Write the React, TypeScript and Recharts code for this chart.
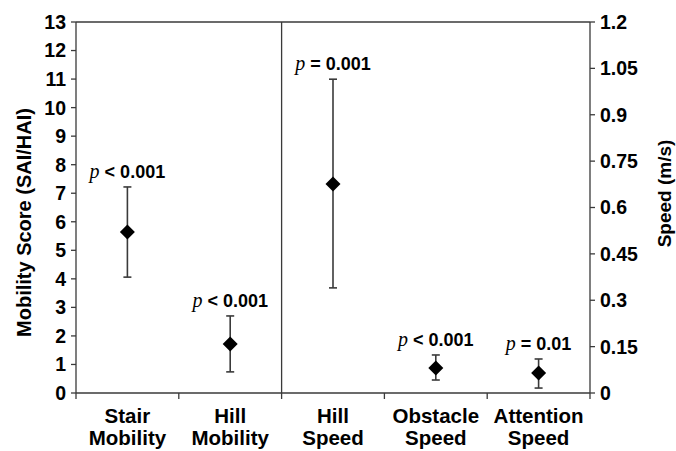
import React from 'react';
import { ComposedChart, Scatter, XAxis, YAxis, ErrorBar, ReferenceLine, Label } from 'recharts';

const categoryLines: string[][] = [
  ['Stair', 'Mobility'],
  ['Hill', 'Mobility'],
  ['Hill', 'Speed'],
  ['Obstacle', 'Speed'],
  ['Attention', 'Speed'],
];
const mobilityMean = [5.64, 1.72];
const mobilityLow = [4.06, 0.74];
const mobilityHigh = [7.22, 2.7];
const speedMean = [0.676, 0.081, 0.065];
const speedLow = [0.34, 0.042, 0.016];
const speedHigh = [1.015, 0.123, 0.11];
const pRelation = ['<', '<', '=', '<', '='];
const pValue = ['0.001', '0.001', '0.001', '0.001', '0.01'];
const leftTicks = [0, 1, 2, 3, 4, 5, 6, 7, 8, 9, 10, 11, 12, 13];
const rightTicks = [0, 0.15, 0.3, 0.45, 0.6, 0.75, 0.9, 1.05, 1.2];
const xTicks = [0, 0.5, 1, 1.5, 2, 2.5, 3, 3.5, 4, 4.5, 5];

const mobilityRows = mobilityMean.map((m, i) => ({
  x: i + 0.5,
  mean: m,
  err: [m - mobilityLow[i], mobilityHigh[i] - m],
  high: mobilityHigh[i],
  rel: pRelation[i],
  pv: pValue[i],
}));
const speedRows = speedMean.map((m, j) => ({
  x: j + 2.5,
  mean: m,
  err: [m - speedLow[j], speedHigh[j] - m],
  high: speedHigh[j],
  rel: pRelation[j + 2],
  pv: pValue[j + 2],
}));

const AX = '#3a3a3a';
const FONT = '"Liberation Sans", Arial, sans-serif';

const Diamond = (props: any) => {
  const { cx, cy } = props;
  const r = 7.5;
  return (
    <polygon
      points={`${cx},${cy - r} ${cx + r},${cy} ${cx},${cy + r} ${cx - r},${cy}`}
      fill="#000"
    />
  );
};

const PLabel = (props: any) => {
  const { cx, cy, payload } = props;
  return (
    <text
      x={cx}
      y={cy - 9}
      textAnchor="middle"
      fontSize={18}
      fontWeight="bold"
      fontFamily={FONT}
      fill="#000"
      style={{ whiteSpace: 'pre' }}
    >
      <tspan fontFamily='"Liberation Serif", "Times New Roman", serif' fontStyle="italic" fontWeight="normal" fontSize={20}>p</tspan>
      <tspan>{` ${payload.rel} ${payload.pv}`}</tspan>
    </text>
  );
};

const XTick = (props: any) => {
  const { x, y, payload } = props;
  const v = payload.value;
  if (Number.isInteger(v)) {
    return <line x1={x} y1={y} x2={x} y2={y + 6} stroke={AX} strokeWidth={1.3} />;
  }
  const lines = categoryLines[Math.floor(v)];
  return (
    <text x={x} y={y} textAnchor="middle" fontSize={20.5} fontWeight="bold" fontFamily={FONT} fill="#000">
      <tspan x={x} dy={30}>{lines[0]}</tspan>
      <tspan x={x} dy={21.5}>{lines[1]}</tspan>
    </text>
  );
};

const LeftTitle = (props: any) => {
  const vb = props.viewBox;
  const x = vb.x + 24;
  const y = vb.y + vb.height / 2 + 15;
  return (
    <text x={x} y={y} transform={`rotate(-90 ${x} ${y})`} textAnchor="middle" dominantBaseline="central"
      fontSize={20} fontWeight="bold" fontFamily={FONT} fill="#000">
      Mobility Score (SAI/HAI)
    </text>
  );
};

const RightTitle = (props: any) => {
  const vb = props.viewBox;
  const x = vb.x + 74;
  const y = vb.y + vb.height / 2 - 14;
  return (
    <text x={x} y={y} transform={`rotate(-90 ${x} ${y})`} textAnchor="middle" dominantBaseline="central"
      fontSize={19} fontWeight="bold" fontFamily={FONT} fill="#000">
      Speed (m/s)
    </text>
  );
};

const tickStyle = { fill: '#000', fontSize: 19.5, fontWeight: 'bold', fontFamily: FONT };

export default function App() {
  return (
    <div style={{ position: 'absolute', left: 0, top: 0, background: '#fff' }}>
      <ComposedChart width={676} height={451} margin={{ top: 22, right: 0, bottom: 0, left: 0 }}>
        <XAxis
          type="number"
          dataKey="x"
          domain={[0, 5]}
          ticks={xTicks}
          interval={0}
          tickLine={false}
          tickSize={0}
          tickMargin={0}
          tick={<XTick />}
          height={58}
          axisLine={{ stroke: AX, strokeWidth: 1.3 }}
          allowDataOverflow
        />
        <YAxis
          yAxisId="left"
          type="number"
          domain={[0, 13]}
          ticks={leftTicks}
          interval={0}
          width={76}
          tickSize={5}
          tickMargin={5}
          tick={tickStyle}
          axisLine={{ stroke: AX, strokeWidth: 1.3 }}
          tickLine={{ stroke: AX, strokeWidth: 1.3 }}
        >
          <Label content={<LeftTitle />} />
        </YAxis>
        <YAxis
          yAxisId="right"
          orientation="right"
          type="number"
          domain={[0, 1.2]}
          ticks={rightTicks}
          interval={0}
          width={86}
          tickSize={5}
          tickMargin={5}
          tick={tickStyle}
          axisLine={{ stroke: AX, strokeWidth: 1.3 }}
          tickLine={{ stroke: AX, strokeWidth: 1.3 }}
        >
          <Label content={<RightTitle />} />
        </YAxis>
        <ReferenceLine yAxisId="left" y={13} stroke={AX} strokeWidth={1.3} />
        <ReferenceLine yAxisId="left" x={2} stroke={AX} strokeWidth={1.3} />
        <Scatter yAxisId="left" data={mobilityRows} dataKey="mean" shape={<Diamond />} isAnimationActive={false}>
          <ErrorBar dataKey="err" direction="y" width={4} stroke={AX} strokeWidth={1.6} />
        </Scatter>
        <Scatter yAxisId="right" data={speedRows} dataKey="mean" shape={<Diamond />} isAnimationActive={false}>
          <ErrorBar dataKey="err" direction="y" width={4} stroke={AX} strokeWidth={1.6} />
        </Scatter>
        <Scatter yAxisId="left" data={mobilityRows} dataKey="high" shape={<PLabel />} isAnimationActive={false} />
        <Scatter yAxisId="right" data={speedRows} dataKey="high" shape={<PLabel />} isAnimationActive={false} />
      </ComposedChart>
    </div>
  );
}
